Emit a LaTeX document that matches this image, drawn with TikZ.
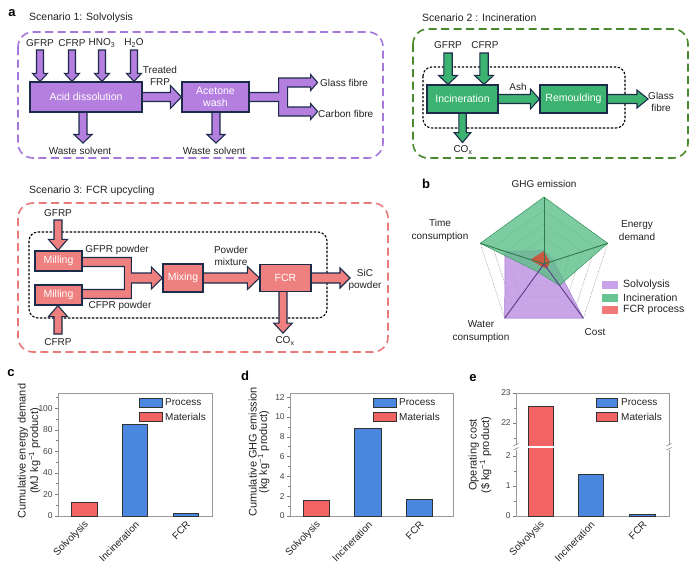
\documentclass[tikz,border=0pt]{standalone}
\usepackage{fontspec}
\setmainfont{Liberation Sans}
\usetikzlibrary{calc}
\pgfdeclarelayer{back}
\pgfdeclarelayer{mid}
\pgfsetlayers{back,mid,main}
\definecolor{navy}{HTML}{1C2B4A}
\definecolor{purbox}{HTML}{B47FDE}
\definecolor{purdash}{HTML}{A678DC}
\definecolor{grnbox}{HTML}{3CB371}
\definecolor{grndash}{HTML}{4A8A2E}
\definecolor{pinkbox}{HTML}{EF8080}
\definecolor{pinkdash}{HTML}{E87A7A}
\definecolor{barred}{HTML}{F26464}
\definecolor{barblue}{HTML}{4A88E0}
\definecolor{txt}{HTML}{222222}
\definecolor{ticktxt}{HTML}{444444}
\definecolor{radgrn}{HTML}{5DBE89}
\definecolor{radgrnedge}{HTML}{3E9E69}
\definecolor{radpur}{HTML}{C39AE4}
\definecolor{radpuredge}{HTML}{A47AD2}
\definecolor{radred}{HTML}{C8583F}
\definecolor{spkgrn}{HTML}{2F7A4C}
\definecolor{spkpur}{HTML}{5A3C86}
\definecolor{leggrn}{HTML}{66C590}
\definecolor{legpur}{HTML}{C9A2EA}
\definecolor{legred}{HTML}{F07878}
\definecolor{framegray}{HTML}{9A9A9A}
\newcommand\fsz[2]{\fontsize{#1}{#2}\selectfont}
\newcommand\barrow[6]{%
  \coordinate (tmpA) at (#5);
  \coordinate (tmpB) at (#6);
  \coordinate (tmpH) at ($(tmpB)!#4!(tmpA)$);
  \filldraw[arrline, fill=#1]
    ($(tmpA)!#2!90:(tmpB)$) -- ($(tmpH)!#2!90:(tmpB)$) -- ($(tmpH)!#3!90:(tmpB)$) -- (tmpB)
    -- ($(tmpH)!#3!-90:(tmpB)$) -- ($(tmpH)!#2!-90:(tmpB)$) -- ($(tmpA)!#2!-90:(tmpB)$) -- cycle;
}
\tikzset{
  proc/.style={draw=navy, line width=1.2pt, inner sep=0pt, align=center, font=\fsz{10.5}{12.5}, text=white},
  lab/.style={font=\fsz{10}{12.5}, text=txt, inner sep=1pt, align=center},
  inlab/.style={font=\fsz{10}{12}, text=txt, inner sep=1pt},
  ttl/.style={font=\fsz{10.5}{12}, text=txt, inner sep=0pt, anchor=west},
  panel/.style={font=\fsz{13}{14}\bfseries, text=black, inner sep=0pt},
  contain/.style={line width=1.6pt, dash pattern=on 8pt off 4.5pt, rounded corners=15pt},
  innerbox/.style={draw=black, line width=1.1pt, dash pattern=on 2.4pt off 1.6pt, rounded corners=9pt},
  arrline/.style={draw=navy, line width=1.1pt, line join=miter},
  grid/.style={draw=gray!80, line width=0.5pt, dash pattern=on 1pt off 1pt},
  spoke/.style={line width=0.9pt},
  rlab/.style={font=\fsz{10}{12.5}, text=txt, inner sep=0pt, align=center},
  rleg/.style={font=\fsz{10.5}{12}, text=txt, inner sep=0pt, anchor=west},
  frame/.style={draw=framegray, line width=0.7pt},
  tk/.style={draw=framegray!80!black, line width=0.6pt},
  ticklab/.style={font=\fsz{8.5}{10}, text=ticktxt, inner sep=1.5pt},
  bar/.style={draw=black!80, line width=0.8pt},
  leg/.style={font=\fsz{10}{12}, text=txt, inner sep=0pt, anchor=west},
  xlab/.style={font=\fsz{10}{12}, text=txt, inner sep=0pt, anchor=east, rotate=45},
  ylab/.style={font=\fsz{11}{10.5}, text=txt, inner sep=0pt, align=center, rotate=90}
}
\begin{document}
\begin{tikzpicture}[x=1pt,y=-1pt]
\useasboundingbox (0,0) rectangle (700,576);

%================ Scenario 1 =================
\node[panel] (pa) at (12,13) {a};
\node[ttl] (t1) at (29,18) {Scenario 1: Solvolysis};
\begin{pgfonlayer}{back}
\draw[contain, draw=purdash] (18,32) rectangle (383,158);
\end{pgfonlayer}
\node[proc, fill=purbox, minimum width=112pt, minimum height=30pt] (acid) at (86,97) {Acid dissolution};
\node[proc, fill=purbox, minimum width=67pt, minimum height=30pt] (acetone) at (215.5,97) {Acetone\\wash};
\node[inlab] (g1) at (40,43) {GFRP};
\node[inlab] (c1) at (72,43) {CFRP};
\node[inlab] (hn) at (102,43) {HNO\textsubscript{3}};
\node[inlab] (hw) at (134,43) {H\textsubscript{2}O};
\node[lab] (tf) at (160,76) {Treated\\FRP};
\node[lab] (w1) at (80,151) {Waste solvent};
\node[lab] (w2) at (214,151) {Waste solvent};
\node[lab, anchor=west] (gf1) at (319,82.5) {Glass fibre};
\node[lab, anchor=west] (cf1) at (317,114) {Carbon fibre};
\coordinate (wa1) at ($(acid.south)+(-3,-2)$);
\coordinate (wa2) at ($(acetone.south)+(0.5,-2)$);
\begin{pgfonlayer}{mid}
\barrow{purbox}{3.5pt}{7.5pt}{8pt}{$(g1)+(0,7)$}{acid.north -| g1}
\barrow{purbox}{3.5pt}{7.5pt}{8pt}{$(c1)+(0,7)$}{acid.north -| c1}
\barrow{purbox}{3.5pt}{7.5pt}{8pt}{$(hn)+(0,7)$}{acid.north -| hn}
\barrow{purbox}{3.5pt}{7.5pt}{8pt}{$(hw)+(0,7)$}{acid.north -| hw}
\barrow{purbox}{4.5pt}{11.5pt}{11pt}{acid}{acetone.west}
\barrow{purbox}{4pt}{9pt}{8.5pt}{wa1}{$(wa1 |- w1)+(0,-8)$}
\barrow{purbox}{4pt}{9pt}{8.5pt}{wa2}{$(wa2 |- w2)+(0,-8)$}
\begin{scope}[shift={(acetone.east)}]
\filldraw[arrline, fill=purbox] (-3,-4.5) -- (29,-4.5) -- (29,-19) -- (61,-19) -- (61,-22.5)
  -- (68,-14.5) -- (61,-6.5) -- (61,-10) -- (38,-10) -- (38,10) -- (61,10) -- (61,6.5)
  -- (68,14.5) -- (61,22.5) -- (61,19) -- (29,19) -- (29,4.5) -- (-3,4.5) -- cycle;
\end{scope}
\end{pgfonlayer}

%================ Scenario 2 =================
\node[ttl] (t2) at (422,18) {Scenario 2 : Incineration};
\begin{pgfonlayer}{back}
\draw[contain, draw=grndash] (413,29) rectangle (688,158);
\draw[innerbox] (423,67) rectangle (625,128);
\end{pgfonlayer}
\node[proc, fill=grnbox, minimum width=71pt, minimum height=28pt] (incin) at (462.5,99) {Incineration};
\node[proc, fill=grnbox, minimum width=67pt, minimum height=28pt] (remould) at (573.5,99) {Remoulding};
\node[inlab] (g2) at (448,45) {GFRP};
\node[inlab] (c2) at (485,45) {CFRP};
\node[lab] (ash) at (518,87) {Ash};
\node[lab] (gf2) at (661,102) {Glass\\fibre};
\node[lab] (co2) at (463,150) {CO\textsubscript{x}};
\coordinate (gfo) at (648,99);
\begin{pgfonlayer}{mid}
\barrow{grnbox}{4.2pt}{9.5pt}{9pt}{$(g2)+(0,8)$}{incin.north -| g2}
\barrow{grnbox}{4.2pt}{9.5pt}{9pt}{$(c2)+(-1,8)$}{$(incin.north -| c2)+(-1,0)$}
\barrow{grnbox}{4.5pt}{10pt}{9pt}{incin}{remould.west}
\barrow{grnbox}{4.5pt}{9pt}{11pt}{remould}{gfo}
\barrow{grnbox}{3.7pt}{8.3pt}{10pt}{$(incin.south)+(0,-2)$}{$(incin.south)+(0,29)$}
\end{pgfonlayer}

%================ Scenario 3 =================
\node[ttl] (t3) at (29,191) {Scenario 3: FCR upcycling};
\begin{pgfonlayer}{back}
\draw[contain, draw=pinkdash] (18,203) rectangle (388,352);
\draw[innerbox] (29,232) rectangle (327,318);
\end{pgfonlayer}
\node[proc, fill=pinkbox, minimum width=47pt, minimum height=20pt] (mill1) at (58.5,261) {Milling};
\node[proc, fill=pinkbox, minimum width=47pt, minimum height=20pt] (mill2) at (58.5,295) {Milling};
\node[proc, fill=pinkbox, minimum width=40pt, minimum height=28pt] (mix) at (183,278) {Mixing};
\node[proc, fill=pinkbox, minimum width=51pt, minimum height=27pt] (fcr) at (285.5,278) {FCR};
\node[inlab] (g3) at (58,213) {GFRP};
\node[inlab] (c3) at (58,342) {CFRP};
\node[lab] (gp) at (117,250) {GFPR powder};
\node[lab] (cp) at (120,306) {CFPR powder};
\node[lab] (pm) at (231,256) {Powder\\mixture};
\node[lab] (sic) at (365,280) {SiC\\powder};
\node[lab] (co3) at (285,341) {CO\textsubscript{x}};
\coordinate (sico) at (350,278);
\begin{pgfonlayer}{mid}
\barrow{pinkbox}{4pt}{9.5pt}{11pt}{$(g3)+(0,7)$}{mill1.north -| g3}
\barrow{pinkbox}{4pt}{9.5pt}{11pt}{$(c3)+(0,-8)$}{mill2.south -| c3}
\begin{scope}[shift={(mix.west)}]
\filldraw[arrline, fill=pinkbox] (-84,-20.5) -- (-31,-20.5) -- (-31,-5) -- (-11,-5) -- (-11,-11)
  -- (0,0) -- (-11,11) -- (-11,5) -- (-31,5) -- (-31,20.5) -- (-84,20.5) -- (-84,11.5)
  -- (-38,11.5) -- (-38,-11.5) -- (-84,-11.5) -- cycle;
\end{scope}
\barrow{pinkbox}{5pt}{11.5pt}{12pt}{mix}{fcr.west}
\barrow{pinkbox}{5pt}{10pt}{10pt}{fcr}{sico}
\barrow{pinkbox}{4pt}{9.3pt}{10pt}{$(fcr.south)+(-2.5,-2)$}{$(fcr.south)+(-2.5,41)$}
\end{pgfonlayer}

%================ Radar (b) =================
\node[panel] (pb) at (426,184) {b};
\begin{scope}[shift={(544,264)}]
\foreach \r in {13.4,26.8,40.2,53.6,67} {
  \draw[grid] (90:\r pt) -- (18:\r pt) -- (-54:\r pt) -- (-126:\r pt) -- (162:\r pt) -- cycle;
}
\filldraw[fill=radpur, draw=radpuredge, line width=0.5pt, fill opacity=0.9]
  (90:13.4pt) -- (18:10pt) -- (-54:67pt) -- (-126:67pt) -- (162:41pt) -- cycle;
\filldraw[fill=radgrn, draw=radgrnedge, line width=0.5pt, fill opacity=0.8]
  (90:67pt) -- (18:67pt) -- (-54:26.4pt) -- (-126:10pt) -- (162:67pt) -- cycle;
\filldraw[fill=radred, draw=radred, line width=0.5pt]
  (90:12.5pt) -- (18:6pt) -- (-54:5pt) -- (-126:3pt) -- (162:14pt) -- cycle;
\draw[spoke, spkgrn] (0,0) -- (90:67pt);
\draw[spoke, spkgrn] (0,0) -- (18:67pt);
\draw[spoke, spkgrn] (0,0) -- (162:67pt);
\draw[spoke, spkpur] (0,0) -- (-54:67pt);
\draw[spoke, spkpur] (0,0) -- (-126:67pt);
\end{scope}
\node[rlab] (rg) at (544,184) {GHG emission};
\node[rlab] (rt) at (440,230.5) {Time\\consumption};
\node[rlab] (re) at (637,230.5) {Energy\\demand};
\node[rlab] (rw) at (481,331.5) {Water\\consumption};
\node[rlab] (rc) at (595,332) {Cost};
\fill[legpur] (602,281) rectangle (618,289);
\fill[leggrn] (602,294) rectangle (618,302);
\fill[legred] (602,306) rectangle (618,314);
\node[rleg] (l1) at (623,285) {Solvolysis};
\node[rleg] (l2) at (623,298) {Incineration};
\node[rleg] (l3) at (623,310) {FCR process};

%================ Chart c =================
\node[panel] (pc) at (11,373) {c};
\draw[frame] (58,393) rectangle (212,516);
\foreach \v in {0,20,...,100} {\draw[tk] (58,{516-1.075*\v}) -- ++(-3.5,0) node[ticklab, anchor=east] {\v};}
\foreach \v in {10,30,...,110} {\draw[tk] (58,{516-1.075*\v}) -- ++(-2,0);}
\filldraw[bar, fill=barred] (71,516) rectangle (97,{516-1.075*12.5});
\filldraw[bar, fill=barblue] (122,516) rectangle (147,{516-1.075*85});
\filldraw[bar, fill=barblue] (173,516) rectangle (198,{516-1.075*2.5});
\filldraw[bar, fill=barblue] (139,398) rectangle (162,407);
\filldraw[bar, fill=barred] (139,412) rectangle (162,421);
\node[leg] at (165,402.5) {Process};
\node[leg] at (165,416.5) {Materials};
\node[xlab] at (87,523) {Solvolysis};
\node[xlab] at (137.5,523) {Incineration};
\node[xlab] at (188.5,523) {FCR};
\node[ylab] at (29,451) {Cumulative energy demand\\(MJ kg\textsuperscript{−1} product)};

%================ Chart d =================
\node[panel] (pd) at (245,376) {d};
\draw[frame] (290,393) rectangle (453,516);
\foreach \v in {0,2,...,12} {\draw[tk] (290,{516-9.9*\v}) -- ++(-3.5,0) node[ticklab, anchor=east] {\v};}
\foreach \v in {1,3,...,11} {\draw[tk] (290,{516-9.9*\v}) -- ++(-2,0);}
\filldraw[bar, fill=barred] (303,516) rectangle (329,{516-9.9*1.6});
\filldraw[bar, fill=barblue] (354,516) rectangle (381,{516-9.9*8.8});
\filldraw[bar, fill=barblue] (406,516) rectangle (432,{516-9.9*1.65});
\filldraw[bar, fill=barblue] (373,398) rectangle (396,407);
\filldraw[bar, fill=barred] (373,412) rectangle (396,421);
\node[leg] at (399,402.5) {Process};
\node[leg] at (399,416.5) {Materials};
\node[xlab] at (319,523) {Solvolysis};
\node[xlab] at (370.5,523) {Incineration};
\node[xlab] at (422,523) {FCR};
\node[ylab] at (259,452) {Cumulative GHG emission\\(kg kg\textsuperscript{−1} product)};

%================ Chart e =================
\node[panel] (pe) at (473,378) {e};
\draw[frame] (516,393) rectangle (669,516);
\foreach \v/\yy in {0/516,1/486,2/456,22/423,23/393} {\draw[tk] (516,\yy) -- ++(-3.5,0) node[ticklab, anchor=east] {\v};}
\foreach \yy in {501,471,408,438} {\draw[tk] (516,\yy) -- ++(-2,0);}
\filldraw[bar, fill=barred] (528,516) rectangle (553,406.5);
\draw[white, line width=1.6pt] (527,447) -- (554,447);
\filldraw[bar, fill=barblue] (578,516) rectangle (603,474.6);
\filldraw[bar, fill=barblue] (629,516) rectangle (655,514.8);
\fill[white] (513.5,444.5) rectangle (518.5,449.5);
\fill[white] (666.5,444.5) rectangle (671.5,449.5);
\draw[tk] (513.5,446) -- (518.5,443.5);
\draw[tk] (513.5,450) -- (518.5,447.5);
\draw[tk] (666.5,446) -- (671.5,443.5);
\draw[tk] (666.5,450) -- (671.5,447.5);
\filldraw[bar, fill=barblue] (596,398) rectangle (617,407);
\filldraw[bar, fill=barred] (596,412) rectangle (617,421);
\node[leg] at (621,402.5) {Process};
\node[leg] at (621,416.5) {Materials};
\node[xlab] at (543,523) {Solvolysis};
\node[xlab] at (593,523) {Incineration};
\node[xlab] at (645,523) {FCR};
\node[ylab] at (480,455) {Operating cost\\(\$ kg\textsuperscript{−1} product)};
\end{tikzpicture}
\end{document}
